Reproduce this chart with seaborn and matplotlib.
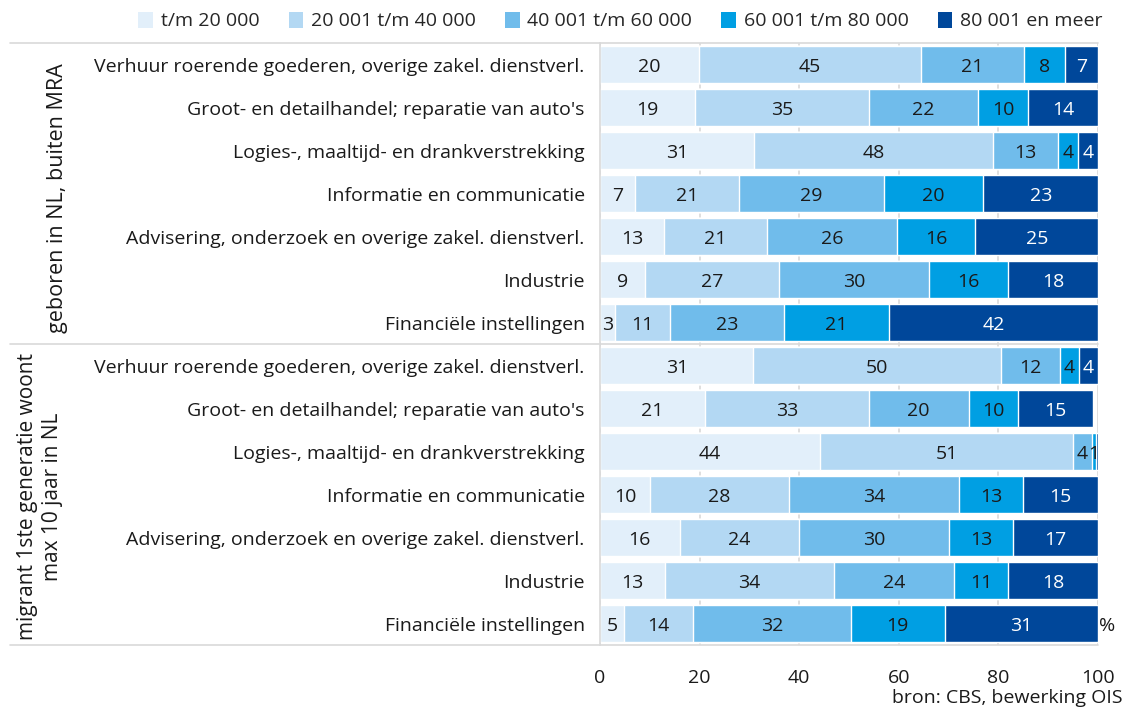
import numpy as np
import pandas as pd
import matplotlib
matplotlib.use("Agg")
import matplotlib.pyplot as plt
from matplotlib.patches import Patch
import seaborn as sns

brackets = ["t/m 20 000", "20 001 t/m 40 000", "40 001 t/m 60 000",
            "60 001 t/m 80 000", "80 001 en meer"]
industries = ["Verhuur roerende goederen, overige zakel. dienstverl.",
              "Groot- en detailhandel; reparatie van auto's",
              "Logies-, maaltijd- en drankverstrekking",
              "Informatie en communicatie",
              "Advisering, onderzoek en overige zakel. dienstverl.",
              "Industrie",
              "Financiële instellingen"]
groups = ["geboren in NL, buiten MRA",
          "migrant 1ste generatie woont\nmax 10 jaar in NL"]

# values per bracket: first 7 rows = group 1, next 7 rows = group 2
v_20 = [19.8, 19, 31, 7, 12.8, 9, 3, 30.8, 21, 44.2, 10, 16, 13, 4.8]
v_40 = [44.6, 35, 48, 21, 20.8, 27, 11, 49.8, 33, 50.8, 28, 24, 34, 13.8]
v_60 = [20.8, 22, 13, 29, 26.0, 30, 23, 11.8, 20, 3.8, 34, 30, 24, 31.8]
v_80 = [8.2, 10, 4, 20, 15.8, 16, 21, 3.8, 10, 0.8, 13, 13, 11, 18.8]
v_80p = [6.6, 14, 4, 23, 24.6, 18, 42, 3.8, 15, 0.4, 15, 17, 18, 30.8]

colors = ["#E2EFFA", "#B3D8F3", "#70BCEB", "#009FE3", "#00479A"]
text_colors = ["#1a1a1a", "#1a1a1a", "#1a1a1a", "#1a1a1a", "#ffffff"]

sns.set_theme(style="white")
plt.rcParams["font.family"] = ["Open Sans", "DejaVu Sans"]

FS = 14

series = [v_20, v_40, v_60, v_80, v_80p]
n = len(v_20)
rows = [f"r{i}" for i in range(n)]
vals = np.array(series)
cums = np.cumsum(vals, axis=0)
df = pd.DataFrame({"row": rows})
for k, b in enumerate(brackets):
    df[b] = cums[k]

fig = plt.figure(figsize=(11.31, 7.15), dpi=100)
ax = fig.add_axes([600 / 1131, 1 - 645 / 715, 498 / 1131, 602 / 715])

# stacked bars: draw cumulative totals from largest to smallest
for k in range(len(brackets) - 1, -1, -1):
    sns.barplot(data=df, x=brackets[k], y="row", orient="h", color=colors[k],
                saturation=1, width=0.85, errorbar=None, ax=ax, zorder=2)

ax.set_xlim(0, 100)
ax.set_ylim(n - 0.5, -0.5)
ax.set_xticks([0, 20, 40, 60, 80, 100])
ax.set_xticklabels(["0", "20", "40", "60", "80", "100"], fontsize=FS, color="#1a1a1a")
ax.tick_params(axis="x", length=0, pad=17)
ax.set_yticks(range(n))
ax.set_yticklabels(industries * 2, fontsize=FS, color="#1a1a1a")
ax.tick_params(axis="y", length=0, pad=11)
ax.set_xlabel("")
ax.set_ylabel("")
for s in ["top", "right", "bottom"]:
    ax.spines[s].set_visible(False)
ax.spines["left"].set_color("#D9D9D9")
ax.spines["left"].set_linewidth(1.2)
ax.xaxis.grid(True, color="#D9D9D9", linewidth=1.2, zorder=0)
ax.set_axisbelow(True)

# value labels
for k in range(len(brackets)):
    for i in range(n):
        v = vals[k, i]
        lab = f"{v:.0f}"
        if lab == "0":
            continue
        ax.text(cums[k, i] - v / 2, i + 0.05, lab, ha="center", va="center",
                fontsize=FS, color=text_colors[k], zorder=5)

ax.text(100.3, n - 1 + 0.05, "%", ha="left", va="center", fontsize=FS,
        color="#1a1a1a", clip_on=False)

# group separators and labels
ytr = ax.get_yaxis_transform()
x_left = (10 - 600) / 498
for y in [-0.5, 6.5, n - 0.5]:
    ax.plot([x_left, 1], [y, y], transform=ytr, color="#D9D9D9", lw=1.2,
            clip_on=False, zorder=1)
ax.text((57 - 600) / 498, 3.1, groups[0], rotation=90, ha="center", va="center",
        transform=ytr, fontsize=15.5, color="#1a1a1a")
ax.text((40 - 600) / 498, 10.05, groups[1], rotation=90, ha="center", va="center",
        transform=ytr, fontsize=15, color="#1a1a1a", linespacing=1.3,
        multialignment="center")

# legend
handles = [Patch(facecolor=c, edgecolor="none") for c in colors]
fig.legend(handles, brackets, loc="center", ncol=5,
           bbox_to_anchor=((144 + 1097) / 2 / 1131, 1 - 21 / 715),
           frameon=False, fontsize=FS, handlelength=0.75, handleheight=0.9,
           handletextpad=0.4, columnspacing=1.5)

fig.text(1122 / 1131, 1 - 698 / 715, "bron: CBS, bewerking OIS", ha="right",
         va="center", fontsize=FS, color="#1a1a1a")

fig.savefig("out.png", dpi=100)
